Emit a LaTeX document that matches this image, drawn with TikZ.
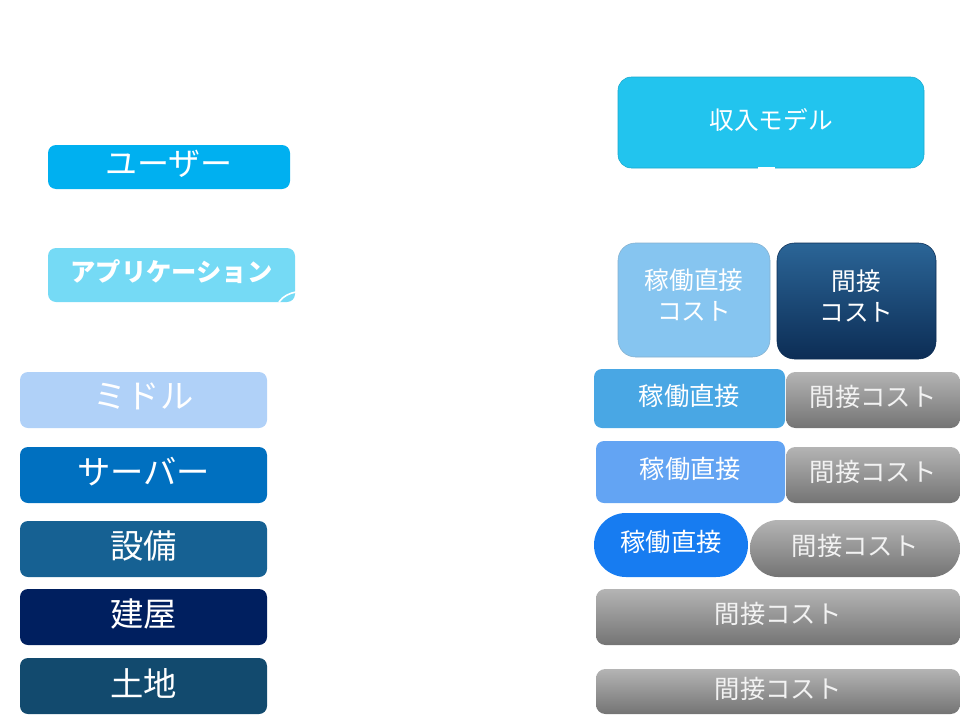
\documentclass[tikz,border=0pt]{standalone}
\usepackage{fontspec}
\setmainfont{Noto Sans CJK JP}
\definecolor{model}{HTML}{22C4EE}
\definecolor{modeledge}{HTML}{1CA8CC}
\definecolor{user}{HTML}{00B0F0}
\definecolor{app}{HTML}{75DAF5}
\definecolor{middle}{HTML}{B0D1F8}
\definecolor{server}{HTML}{0070C0}
\definecolor{equip}{HTML}{166193}
\definecolor{bldg}{HTML}{001F5F}
\definecolor{land}{HTML}{124A6E}
\definecolor{dirtall}{HTML}{86C5F0}
\definecolor{dirone}{HTML}{49A7E4}
\definecolor{dirtwo}{HTML}{63A4F3}
\definecolor{dirthree}{HTML}{177CF1}
\definecolor{navytop}{HTML}{2B6597}
\definecolor{navybot}{HTML}{0C2D55}
\definecolor{greytop}{HTML}{B4B4B4}
\definecolor{greymid}{HTML}{A6A6A6}
\definecolor{greybot}{HTML}{747474}
\newcommand{\fsz}[1]{\fontsize{#1}{#1}\selectfont}

\begin{document}
\begin{tikzpicture}[x=0.75pt, y=-0.75pt,
  blk/.style 2 args={rectangle, rounded corners=6pt, inner sep=0pt, outer sep=0pt,
    minimum width={#1*0.75pt}, minimum height={#2*0.75pt}, text=white, text depth=0.6em},
  tall/.style 2 args={rectangle, rounded corners=13pt, inner sep=0pt, outer sep=0pt,
    minimum width={#1*0.75pt}, minimum height={#2*0.75pt}, text=white, align=center,
    font=\fsz{18.5}},
  layer/.style={blk={247}{56}, font=\fsz{25}},
  greycost/.style={top color=greytop, middle color=greymid, bottom color=greybot,
    rounded corners=7pt, text=white!95!black, font=\fsz{19}}]
  \useasboundingbox (0,0) rectangle (960,728);

  % 左側: レイヤー
  \node[blk={242}{44}, fill=user, font=\fsz{24}] (user) at (169,167) {ユーザー};
  \node[blk={247}{54}, fill=app, font=\fsz{19}\bfseries] (app) at (171.5,275) {アプリケーション};
  \draw[white, line width=1.2pt] (279,302) .. controls (283,296) and (290,293) .. (296,292);
  \node[layer, fill=middle] (middle) at (143.5,400) {ミドル};
  \node[layer, fill=server] (server) at (143.5,475) {サーバー};
  \node[layer, fill=equip]  (equip)  at (143.5,549) {設備};
  \node[layer, fill=bldg]   (bldg)   at (143.5,617) {建屋};
  \node[layer, fill=land]   (land)   at (143.5,686) {土地};

  % 右側: 収入とコスト
  \node[blk={306}{91}, rounded corners=10pt, fill=model, draw=modeledge, font=\fsz{18.5}] (model) at (771,122.5) {収入モデル};
  \fill[white] (758,167) rectangle (775,171);

  \node[tall={152}{114}, fill=dirtall, draw=dirtall!70!gray] (dirA) at (694,300) {稼働直接\\[4.5pt]コスト\rule[-8pt]{0pt}{1pt}};
  \node[tall={159}{116}, top color=navytop, bottom color=navybot, draw=navybot] (indA) at (856.5,301) {間接\\[4.5pt]コスト\rule[-8pt]{0pt}{1pt}};

  \node[blk={191}{59}, fill=dirone, font=\fsz{19}] (dir1) at (689.5,398.5) {稼働直接};
  \node[blk={174}{56}, greycost] (ind1) at (873,400) {間接コスト};

  \node[blk={189}{62}, fill=dirtwo, font=\fsz{19}] (dir2) at (690.5,472) {稼働直接};
  \node[blk={174}{56}, greycost] (ind2) at (873,475) {間接コスト};

  \node[blk={154}{64}, rounded corners=24pt, fill=dirthree, font=\fsz{19}] (dir3) at (671,545) {稼働直接};
  \node[blk={210}{57}, greycost, rounded corners=21pt] (ind3) at (855,548.5) {間接コスト};

  \node[blk={364}{56}, greycost] (ind4) at (778,617) {間接コスト};
  \node[blk={364}{45}, greycost] (ind5) at (778,691.5) {間接コスト};
\end{tikzpicture}
\end{document}
